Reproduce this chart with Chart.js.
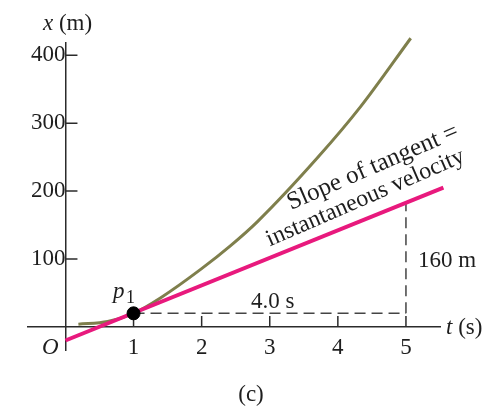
<!DOCTYPE html>
<html><head><meta charset="utf-8">
<script src="https://cdn.jsdelivr.net/npm/chart.js@4/dist/chart.umd.min.js"></script>
<style>html,body{margin:0;padding:0;background:#fff;}#wrap{width:485px;height:407px;}</style>
</head><body><div id="wrap"><canvas id="c" width="485" height="407"></canvas></div>
<script>
// ---- data ----
const curveT   = [0.19, 0.62, 1.0, 1.4, 1.99, 2.43, 2.82, 3.71, 4.34, 5.07];
const curveX   = [4, 8, 20, 43, 85, 120, 155, 250, 325, 425];
const tangentT = [0, 5.55];
const tangentX = [-20, 205];
const p1T = [1];
const p1X = [20];
const runT  = [1, 5];
const runX  = [20, 20];
const riseT = [5, 5];
const riseX = [20, 182];
const xTickValues = [1, 2, 3, 4, 5];
const yTickValues = [100, 200, 300, 400];

const SERIF = '"Liberation Serif", "Times New Roman", serif';
const AXIS = '#2b2b2b';
const pts = (a, b) => a.map((v, i) => ({x: v, y: b[i]}));

const annot = {
  id: 'annot',
  beforeDatasetsDraw(chart) {
    const {ctx, scales: {x, y}} = chart;
    const x0 = x.getPixelForValue(0), y0 = y.getPixelForValue(0);
    ctx.save();
    ctx.strokeStyle = AXIS; ctx.lineWidth = 1.5;
    ctx.beginPath();
    yTickValues.forEach(v => { const p = y.getPixelForValue(v); ctx.moveTo(x0, p); ctx.lineTo(x0 + 12, p); });
    xTickValues.forEach(v => { const p = x.getPixelForValue(v); ctx.moveTo(p, y0); ctx.lineTo(p, y0 - 11); });
    ctx.stroke();
    ctx.restore();
  },
  afterDraw(chart) {
    const {ctx} = chart;
    ctx.save();
    ctx.fillStyle = '#1e1e1e';
    ctx.textBaseline = 'alphabetic';
    ctx.textAlign = 'left';
    const it = 'italic 23px ' + SERIF, rm = '23px ' + SERIF;
    // x (m)
    ctx.font = it; ctx.fillText('x', 43, 30);
    let w = ctx.measureText('x').width;
    ctx.font = rm; ctx.fillText(' (m)', 43 + w, 30);
    // O
    ctx.font = it; ctx.fillText('O', 42, 354);
    // t (s)
    ctx.font = it; ctx.fillText('t', 446, 334);
    w = ctx.measureText('t').width;
    ctx.font = rm; ctx.fillText(' (s)', 446 + w, 334);
    // 160 m
    ctx.font = rm; ctx.fillText('160 m', 418, 267);
    // 4.0 s
    ctx.fillText('4.0 s', 251, 308);
    // p1
    ctx.font = it; ctx.fillText('p', 113, 298);
    ctx.font = '18px ' + SERIF; ctx.fillText('1', 126, 303);
    // (c)
    ctx.font = rm; ctx.textAlign = 'center'; ctx.fillText('(c)', 251, 401);
    // rotated label
    ctx.textAlign = 'left';
    ctx.translate(291, 210);
    ctx.rotate(-23.5 * Math.PI / 180);
    ctx.font = '25px ' + SERIF;
    ctx.fillText('Slope of tangent =', 0, 0);
    ctx.font = '24px ' + SERIF;
    ctx.fillText('instantaneous velocity', -34, 25);
    ctx.restore();
  }
};

const tickFont = {family: SERIF, size: 23};
new Chart(document.getElementById('c'), {
  type: 'scatter',
  data: {
    datasets: [
      {data: pts(p1T, p1X), pointRadius: 6.5, pointBackgroundColor: '#000', pointBorderColor: '#000', showLine: false, clip: false},
      {data: pts(tangentT, tangentX), showLine: true, borderColor: '#e8197d', borderWidth: 4, pointRadius: 0, clip: false},
      {data: pts(curveT, curveX), showLine: true, borderColor: '#7f7f4c', borderWidth: 3, pointRadius: 0, cubicInterpolationMode: 'monotone', clip: false},
      {data: pts(runT, runX), showLine: true, borderColor: '#444', borderWidth: 1.5, borderDash: [11, 6], pointRadius: 0, clip: false},
      {data: pts(riseT, riseX), showLine: true, borderColor: '#444', borderWidth: 1.5, borderDash: [11, 6], pointRadius: 0, clip: false}
    ]
  },
  options: {
    responsive: false,
    devicePixelRatio: 1,
    animation: false,
    layout: {padding: {left: 28, right: 45, top: 43, bottom: 57}},
    plugins: {legend: {display: false}, tooltip: {enabled: false}},
    scales: {
      x: {
        type: 'linear', min: -0.55, max: 5.5, position: {y: 0},
        afterBuildTicks: s => { s.ticks = xTickValues.map(v => ({value: v})); },
        grid: {drawOnChartArea: false, drawTicks: false},
        border: {display: true, color: AXIS, width: 1.5},
        ticks: {font: tickFont, color: '#1e1e1e', padding: 7, maxRotation: 0, autoSkip: false}
      },
      y: {
        type: 'linear', min: -34, max: 418, position: {x: 0},
        afterBuildTicks: s => { s.ticks = yTickValues.map(v => ({value: v})); },
        grid: {drawOnChartArea: false, drawTicks: false},
        border: {display: true, color: AXIS, width: 1.5},
        ticks: {font: tickFont, color: '#1e1e1e', padding: 5, autoSkip: false}
      }
    }
  },
  plugins: [annot]
});
</script>
</body></html>
